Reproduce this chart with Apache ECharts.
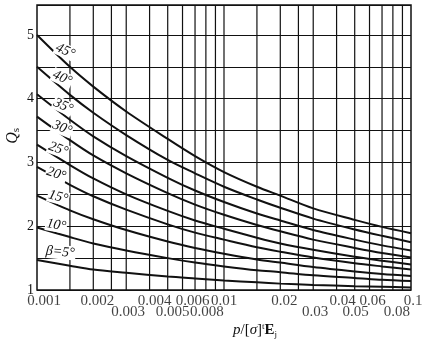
<!DOCTYPE html>
<html>
<head>
<meta charset="utf-8">
<script src="https://cdn.jsdelivr.net/npm/echarts@6/dist/echarts.min.js"></script>
<style>html,body{margin:0;padding:0;background:#fff}#c{width:437px;height:342px}</style>
</head>
<body>
<div id="c"></div>
<script>
// x positions where curve values were read
const xs = [0.001, 0.0015, 0.002, 0.003, 0.005, 0.007, 0.01, 0.015, 0.02, 0.03, 0.05, 0.07, 0.1];
// Qs values for each half-cone angle beta
const q45 = [5.00, 4.50, 4.19, 3.80, 3.37, 3.10, 2.85, 2.62, 2.48, 2.28, 2.10, 1.99, 1.89];
const q40 = [4.50, 4.06, 3.78, 3.43, 3.04, 2.83, 2.62, 2.42, 2.29, 2.12, 1.95, 1.85, 1.75];
const q35 = [4.07, 3.67, 3.41, 3.10, 2.76, 2.56, 2.38, 2.20, 2.09, 1.94, 1.79, 1.70, 1.62];
const q30 = [3.72, 3.35, 3.11, 2.83, 2.52, 2.34, 2.18, 2.02, 1.92, 1.79, 1.66, 1.58, 1.51];
const q25 = [3.28, 2.96, 2.75, 2.50, 2.24, 2.09, 1.96, 1.82, 1.73, 1.63, 1.52, 1.46, 1.40];
const q20 = [2.93, 2.65, 2.47, 2.26, 2.03, 1.90, 1.79, 1.67, 1.60, 1.51, 1.42, 1.37, 1.32];
const q15 = [2.48, 2.25, 2.11, 1.94, 1.76, 1.66, 1.57, 1.48, 1.43, 1.36, 1.29, 1.25, 1.22];
const q10 = [1.98, 1.83, 1.73, 1.62, 1.50, 1.43, 1.37, 1.31, 1.28, 1.23, 1.19, 1.16, 1.14];
const q05 = [1.47, 1.38, 1.32, 1.27, 1.21, 1.18, 1.15, 1.12, 1.10, 1.08, 1.06, 1.05, 1.04];
const curveNames = ['45°', '40°', '35°', '30°', '25°', '20°', '15°', '10°', 'β=5°'];
const curveValues = [q45, q40, q35, q30, q25, q20, q15, q10, q05];

// tick labels (two staggered rows) and vertical grid lines
const xLabelsRow1 = [0.001, 0.002, 0.004, 0.006, 0.01, 0.02, 0.04, 0.06, 0.1];
const xLabelsRow2 = [0.003, 0.005, 0.008, 0.03, 0.05, 0.08];
const xGridLines = [0.0015, 0.002, 0.0025, 0.003, 0.004, 0.005, 0.006, 0.007, 0.008, 0.009,
                    0.01, 0.015, 0.02, 0.025, 0.03, 0.04, 0.05, 0.06, 0.07, 0.08, 0.09];
const yMin = 1, yMax = 5.47, yStep = 0.5;

// layout: screen offsets of curve labels from the 2nd point of each curve, rotation (deg)
const labelShift = [[-4.7,-15.9],[-7.7,-16.9],[-6.7,-13.8],[-7.7,-12.2],[-11.7,-16],[-13.7,-10.8],[-11.7,-13.3],[-13.7,-12],[-9.7,-13.7]];
const labelRot = [-25, -25, -25, -22, -20, -18, -15, -10, -5];
// layout: horizontal nudges of tick labels
const row1Nudge = [7, 4, 5, 10, 0, 4, 6, 3, 2];
const row2Nudge = [2, 5, 1, 2, 1, 4];

const SERIF = '"Liberation Serif", "DejaVu Serif", serif';
const INK = '#111';

// the label offset is applied in the rotated frame, so counter-rotate it
function localOffset(d, rotDeg) {
  const t = -rotDeg * Math.PI / 180; // clockwise angle on screen
  const c = Math.cos(t), s = Math.sin(t);
  return [d[0] * c + d[1] * s, -d[0] * s + d[1] * c];
}

const chart = echarts.init(document.getElementById('c'), null, {renderer: 'canvas'});

const series = [];

// vertical grid lines, each a two-point line through the axes
xGridLines.forEach(x => {
  series.push({
    type: 'line', silent: true, symbol: 'none', z: 1,
    lineStyle: {color: INK, width: 1.2},
    data: [[x, yMin], [x, yMax]]
  });
});

curveValues.forEach((vals, k) => {
  series.push({
    type: 'line',
    name: curveNames[k],
    smooth: 0.3,
    symbol: 'circle',
    symbolSize: 1,
    showSymbol: true,
    showAllSymbol: true,
    lineStyle: {color: INK, width: 2},
    itemStyle: {color: 'rgba(0,0,0,0)'},
    z: 5,
    data: vals.map((v, i) => {
      const item = {value: [xs[i], v]};
      if (i === 1) {
        item.label = {
          show: true, formatter: curveNames[k], position: 'inside',
          offset: localOffset(labelShift[k], labelRot[k]), rotate: labelRot[k],
          fontFamily: SERIF, fontStyle: 'italic', fontSize: 14, color: INK,
          backgroundColor: '#fff', padding: [0, 1]
        };
      }
      return item;
    })
  });
});

// x tick labels, two rows
function labelRow(vals, nudges, dist) {
  return {
    type: 'scatter', silent: true, clip: false,
    symbolSize: 1,
    itemStyle: {color: 'rgba(0,0,0,0)'},
    data: vals.map((v, i) => ({value: [v, yMin], label: {offset: [nudges[i], 0]}})),
    label: {
      show: true, position: 'bottom', distance: dist,
      formatter: p => String(p.value[0]),
      fontFamily: SERIF, fontSize: 15, color: INK
    }
  };
}
series.push(labelRow(xLabelsRow1, row1Nudge, 3));
series.push(labelRow(xLabelsRow2, row2Nudge, 14));

chart.setOption({
  animation: false,
  backgroundColor: '#fff',
  grid: {left: 37, right: 26, top: 5, bottom: 52, show: true, borderColor: INK, borderWidth: 1.5, containLabel: false},
  xAxis: {
    type: 'log', logBase: 10, min: 0.001, max: 0.1,
    axisLine: {show: false}, axisTick: {show: false}, axisLabel: {show: false},
    splitLine: {show: false}, minorSplitLine: {show: false}
  },
  yAxis: {
    type: 'value', min: yMin, max: yMax, interval: yStep,
    axisLine: {show: false}, axisTick: {show: false},
    axisLabel: {
      fontFamily: SERIF, fontSize: 14, color: INK, margin: 3,
      formatter: v => (Math.abs(v - Math.round(v)) < 1e-9 ? String(Math.round(v)) : '')
    },
    splitLine: {show: true, lineStyle: {color: INK, width: 1.2}}
  },
  graphic: [
    {
      type: 'text', left: 5, top: 128, rotation: Math.PI / 2,
      style: {
        text: '{q|Q}{s|s}', fill: INK,
        rich: {
          q: {fontFamily: SERIF, fontStyle: 'italic', fontSize: 16, fill: INK},
          s: {fontFamily: SERIF, fontSize: 11, fill: INK, verticalAlign: 'bottom', padding: [6, 0, 0, 0]}
        }
      }
    },
    {
      type: 'text', left: 233, top: 322,
      style: {
        text: '{i|p}{n|/[}{i|σ}{n|]}{t|t}{b|E}{j|j}', fill: INK,
        rich: {
          i: {fontFamily: SERIF, fontStyle: 'italic', fontSize: 15, fill: INK},
          n: {fontFamily: SERIF, fontSize: 15, fill: INK},
          t: {fontFamily: SERIF, fontSize: 9, fill: INK, padding: [0, 0, 8, 0]},
          b: {fontFamily: SERIF, fontWeight: 'bold', fontSize: 15, fill: INK},
          j: {fontFamily: SERIF, fontSize: 9, fill: INK, padding: [8, 0, 0, 0]}
        }
      }
    }
  ],
  series: series
});
</script>
</body>
</html>
